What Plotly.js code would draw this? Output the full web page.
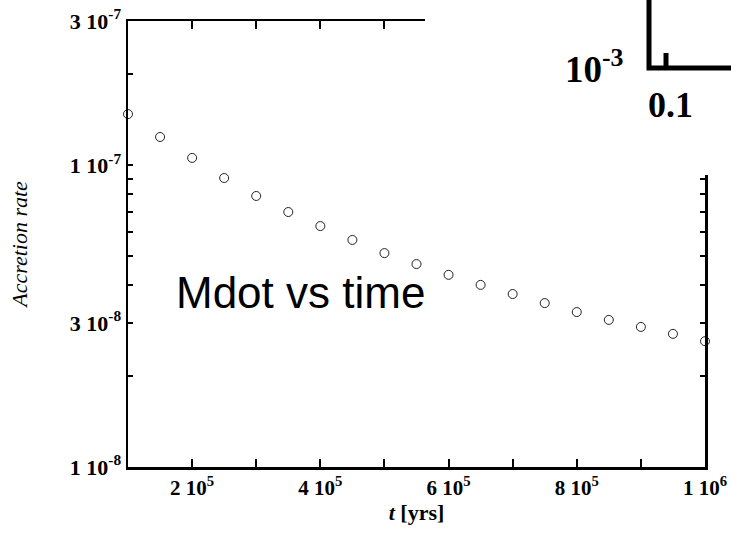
<!DOCTYPE html>
<html>
<head>
<meta charset="utf-8">
<script src="https://cdn.plot.ly/plotly-3.0.1.min.js"></script>
<style>html,body{margin:0;padding:0;background:#fff;}#chart{width:731px;height:533px;}</style>
</head>
<body>
<div id="chart"></div>
<script>
// Time in years
var timeYrs = [1e5, 1.5e5, 2e5, 2.5e5, 3e5, 3.5e5, 4e5, 4.5e5, 5e5, 5.5e5, 6e5, 6.5e5, 7e5, 7.5e5, 8e5, 8.5e5, 9e5, 9.5e5, 1e6];
// Accretion rate
var accretionRate = [1.475e-7, 1.239e-7, 1.056e-7, 9.06e-8, 7.90e-8, 6.99e-8, 6.28e-8, 5.65e-8, 5.11e-8, 4.70e-8, 4.33e-8, 4.01e-8, 3.74e-8, 3.49e-8, 3.26e-8, 3.07e-8, 2.91e-8, 2.76e-8, 2.61e-8];

var xTickVals = [2e5, 4e5, 6e5, 8e5, 1e6];
var xTickText = ["2 10<sup>5</sup>", "4 10<sup>5</sup>", "6 10<sup>5</sup>", "8 10<sup>5</sup>", "1 10<sup>6</sup>"];
var xMinorVals = [3e5, 5e5, 7e5, 9e5];
var yTickVals = [1e-8, 3e-8, 1e-7, 3e-7];
var yTickText = ["1 10<sup>-8</sup>", "3 10<sup>-8</sup>", "1 10<sup>-7</sup>", "3 10<sup>-7</sup>"];
var yMinorVals = [2e-8, 4e-8, 5e-8, 6e-8, 7e-8, 8e-8, 9e-8, 2e-7];
var yDecadeVals = [1e-8, 1e-7];

var serif = "'Liberation Serif', 'Times New Roman', serif";

var trace = {
  x: timeYrs, y: accretionRate,
  type: 'scatter', mode: 'markers',
  marker: {symbol: 'circle-open', size: 9, color: '#222', line: {width: 1, color: '#222'}},
  cliponaxis: false,
  showlegend: false
};

var layout = {
  width: 731, height: 533,
  margin: {l: 128, r: 26, t: 21, b: 66},
  paper_bgcolor: '#fff', plot_bgcolor: '#fff',
  showlegend: false,
  title: {
    text: 'Mdot vs time',
    font: {family: "'Liberation Sans', Arial, sans-serif", size: 44, color: '#000'},
    xref: 'container', yref: 'container',
    x: 176/731, xanchor: 'left',
    y: 1 - 293/533, yanchor: 'middle'
  },
  xaxis: {
    range: [1e5, 1e6],
    showline: true, linecolor: '#000', linewidth: 2.5,
    mirror: 'ticks', ticks: 'inside', ticklen: 8, tickwidth: 2, tickcolor: '#000',
    tickmode: 'array', tickvals: xTickVals, ticktext: xTickText,
    minor: {tickmode: 'array', tickvals: xMinorVals, ticks: 'inside', ticklen: 8, tickwidth: 2, tickcolor: '#000', showgrid: false},
    showgrid: false, zeroline: false,
    tickfont: {family: serif, size: 21, color: '#000', weight: 'bold'},
    title: {text: '<i>t</i> [yrs]', font: {family: serif, size: 22, color: '#000', weight: 'bold'}, standoff: 4}
  },
  yaxis: {
    type: 'log',
    range: [-8, Math.log10(3e-7)],
    showline: true, linecolor: '#000', linewidth: 2.5,
    mirror: 'ticks', ticks: 'inside', ticklen: 5, tickwidth: 2, tickcolor: '#000',
    tickmode: 'array', tickvals: yTickVals, ticktext: yTickText,
    minor: {tickmode: 'array', tickvals: yMinorVals, ticks: 'inside', ticklen: 5, tickwidth: 2, tickcolor: '#000', showgrid: false},
    showgrid: false, zeroline: false,
    tickfont: {family: serif, size: 22, color: '#000', weight: 'bold'},
    title: {text: '<i>Accretion rate</i>', font: {family: serif, size: 22, color: '#000'}, standoff: 36}
  },
  yaxis2: {
    type: 'log', overlaying: 'y', side: 'left', anchor: 'x',
    range: [-8, Math.log10(3e-7)],
    showline: false, mirror: 'ticks', ticks: 'inside', ticklen: 9, tickwidth: 2, tickcolor: '#000',
    tickmode: 'array', tickvals: yDecadeVals, showticklabels: false,
    showgrid: false, zeroline: false
  },
  shapes: [
    {type: 'rect', xref: 'paper', yref: 'paper', x0: (425-128)/577, x1: 1.2, y0: (467-175)/446, y1: 1.2,
     fillcolor: '#fff', line: {width: 0}, layer: 'above'},
    {type: 'path', xref: 'paper', yref: 'paper',
     path: 'M ' + ((649-128)/577) + ',' + ((467+5)/446) + ' L ' + ((649-128)/577) + ',' + ((467-68)/446) + ' L ' + ((740-128)/577) + ',' + ((467-68)/446),
     line: {color: '#000', width: 5}, layer: 'above'},
    {type: 'line', xref: 'paper', yref: 'paper', x0: (666-128)/577, x1: (666-128)/577, y0: (467-68)/446, y1: (467-53)/446,
     line: {color: '#000', width: 5}, layer: 'above'}
  ],
  annotations: [
    {text: '10<sup>-3</sup>', xref: 'paper', yref: 'paper', x: (626-128)/577, y: (467-67)/446,
     xanchor: 'right', yanchor: 'middle', showarrow: false,
     font: {family: serif, size: 37, color: '#000', weight: 'bold'}},
    {text: '0.1', xref: 'paper', yref: 'paper', x: (670-128)/577, y: (467-105)/446,
     xanchor: 'center', yanchor: 'middle', showarrow: false,
     font: {family: serif, size: 36, color: '#000', weight: 'bold'}}
  ]
};

Plotly.newPlot('chart', [trace], layout, {staticPlot: true, displayModeBar: false});
</script>
</body>
</html>
